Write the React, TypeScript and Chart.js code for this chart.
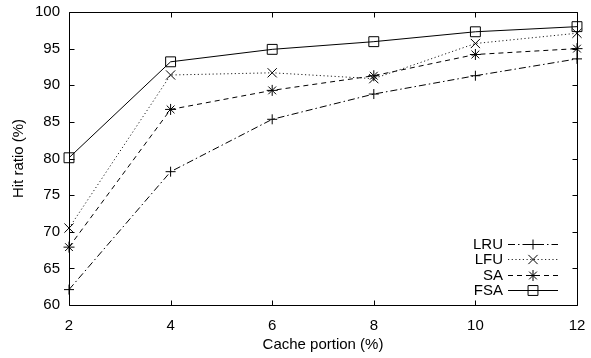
import React, { useEffect, useRef } from 'react';
import { Chart, registerables } from 'chart.js';
import { drawPoint } from 'chart.js/helpers';

Chart.register(...registerables);

const cachePortions = [2, 4, 6, 8, 10, 12];
const lruValues = [62.1, 78.2, 85.35, 88.8, 91.3, 93.6];
const lfuValues = [70.5, 91.4, 91.7, 90.9, 95.7, 97.1];
const saValues = [67.9, 86.7, 89.3, 91.3, 94.2, 95.0];
const fsaValues = [80.1, 93.2, 94.9, 95.95, 97.3, 98.0];
const seriesNames = ['LRU', 'LFU', 'SA', 'FSA'];
const xTickValues = [2, 4, 6, 8, 10, 12];
const yTickValues = [60, 65, 70, 75, 80, 85, 90, 95, 100];

const FONT = "'Liberation Sans', Arial, Helvetica, sans-serif";

const styles = [
  { dash: [7, 3, 1.5, 3], point: 'cross', radius: 5, color: '#000' },
  { dash: [1.2, 2.5], point: 'crossRot', radius: 6.5, color: '#222' },
  { dash: [5, 4], point: 'star', radius: 5.5, color: '#000' },
  { dash: [], point: 'rect', radius: 7, color: '#000' },
];

const framePlugin = {
  id: 'gnuFrame',
  afterDatasetsDraw(chart: any) {
    const { ctx, chartArea: a, scales } = chart;
    ctx.save();
    ctx.strokeStyle = '#000';
    ctx.lineWidth = 1;
    ctx.setLineDash([]);
    ctx.beginPath();
    const L = Math.round(a.left) + 0.5;
    const R = Math.round(a.right) + 0.5;
    const T = Math.round(a.top) + 0.5;
    const B = Math.round(a.bottom) + 0.5;
    ctx.rect(L, T, R - L, B - T);
    const tl = 5;
    for (const v of xTickValues) {
      const x = Math.round(scales.x.getPixelForValue(v)) + 0.5;
      ctx.moveTo(x, B);
      ctx.lineTo(x, B - tl);
      ctx.moveTo(x, T);
      ctx.lineTo(x, T + tl);
    }
    for (const v of yTickValues) {
      const y = Math.round(scales.y.getPixelForValue(v)) + 0.5;
      ctx.moveTo(L, y);
      ctx.lineTo(L + tl, y);
      ctx.moveTo(R, y);
      ctx.lineTo(R - tl, y);
    }
    ctx.stroke();

    // legend
    ctx.font = `15px ${FONT}`;
    ctx.fillStyle = '#000';
    ctx.textAlign = 'right';
    ctx.textBaseline = 'middle';
    const textRight = a.right - 74;
    const lineStart = a.right - 69;
    const lineEnd = a.right - 19;
    seriesNames.forEach((name, i) => {
      const y = a.bottom - 61.5 + i * 15.5;
      ctx.fillText(name, textRight, y + 1);
      const s = styles[i];
      ctx.strokeStyle = s.color;
      ctx.setLineDash(s.dash);
      ctx.beginPath();
      ctx.moveTo(lineStart, Math.round(y) + 0.5);
      ctx.lineTo(lineEnd, Math.round(y) + 0.5);
      ctx.stroke();
      ctx.setLineDash([]);
      ctx.strokeStyle = '#000';
      ctx.fillStyle = 'rgba(0,0,0,0)';
      drawPoint(ctx, { pointStyle: s.point, radius: s.radius, borderWidth: 1, rotation: 0 } as any, (lineStart + lineEnd) / 2, Math.round(y) + 0.5);
      ctx.fillStyle = '#000';
    });
    ctx.restore();
  },
};

export default function App() {
  const ref = useRef<HTMLCanvasElement | null>(null);
  useEffect(() => {
    document.body.style.margin = '0';
    const seriesValues = [lruValues, lfuValues, saValues, fsaValues];
    const chart = new Chart(ref.current as HTMLCanvasElement, {
      type: 'line',
      data: {
        datasets: seriesNames.map((name, i) => ({
          label: name,
          data: cachePortions.map((x, j) => ({ x, y: seriesValues[i][j] })),
          borderColor: styles[i].color,
          borderWidth: 1,
          borderDash: styles[i].dash,
          pointStyle: styles[i].point as any,
          pointRadius: styles[i].radius,
          pointBorderColor: '#000',
          pointBackgroundColor: 'rgba(0,0,0,0)',
          pointBorderWidth: 1,
          fill: false,
          tension: 0,
          clip: false as any,
        })),
      },
      options: {
        animation: false,
        responsive: false,
        maintainAspectRatio: false,
        layout: { padding: { top: 12, right: 14, left: 0, bottom: 0 } },
        plugins: { legend: { display: false }, tooltip: { enabled: false } },
        scales: {
          x: {
            type: 'linear',
            min: 2,
            max: 12,
            afterFit: (s: any) => { s.height = 53; s.paddingLeft = 0; s.paddingRight = 0; },
            afterBuildTicks: (s: any) => { s.ticks = xTickValues.map((v) => ({ value: v })); },
            grid: { display: false, drawTicks: false },
            border: { display: false },
            ticks: { color: '#000', font: { family: FONT, size: 15 }, padding: 12, maxRotation: 0 },
            title: { display: true, text: 'Cache portion (%)', color: '#000', font: { family: FONT, size: 15 }, padding: { top: 0, bottom: 4 } },
          },
          y: {
            type: 'linear',
            min: 60,
            max: 100,
            afterFit: (s: any) => { s.width = 69; s.paddingTop = 0; s.paddingBottom = 0; },
            afterBuildTicks: (s: any) => { s.ticks = yTickValues.map((v) => ({ value: v })); },
            grid: { display: false, drawTicks: false },
            border: { display: false },
            ticks: { color: '#000', font: { family: FONT, size: 15 }, padding: 9 },
            title: { display: true, text: 'Hit ratio (%)', color: '#000', font: { family: FONT, size: 15 }, padding: { top: 10, bottom: 0 } },
          },
        },
      },
      plugins: [framePlugin],
    });
    return () => chart.destroy();
  }, []);
  return (
    <div style={{ position: 'absolute', left: 0, top: 0, width: 591, height: 358, background: '#fff' }}>
      <canvas ref={ref} width={591} height={358} style={{ width: 591, height: 358 }} />
    </div>
  );
}
